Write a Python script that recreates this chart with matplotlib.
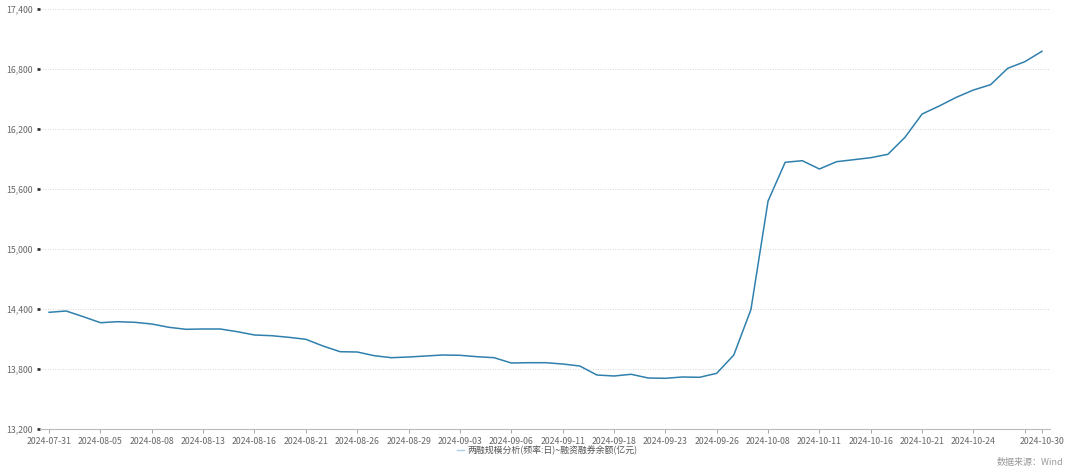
import matplotlib
matplotlib.use("Agg")
import matplotlib.pyplot as plt
from matplotlib.ticker import FuncFormatter
from matplotlib.lines import Line2D

plt.rcParams['font.family'] = ['Noto Sans CJK SC', 'DejaVu Sans']

dates = ["2024-07-31", "2024-08-01", "2024-08-02", "2024-08-05", "2024-08-06", "2024-08-07",
         "2024-08-08", "2024-08-09", "2024-08-12", "2024-08-13", "2024-08-14", "2024-08-15",
         "2024-08-16", "2024-08-19", "2024-08-20", "2024-08-21", "2024-08-22", "2024-08-23",
         "2024-08-26", "2024-08-27", "2024-08-28", "2024-08-29", "2024-08-30", "2024-09-02",
         "2024-09-03", "2024-09-04", "2024-09-05", "2024-09-06", "2024-09-09", "2024-09-10",
         "2024-09-11", "2024-09-12", "2024-09-13", "2024-09-18", "2024-09-19", "2024-09-20",
         "2024-09-23", "2024-09-24", "2024-09-25", "2024-09-26", "2024-09-27", "2024-09-30",
         "2024-10-08", "2024-10-09", "2024-10-10", "2024-10-11", "2024-10-14", "2024-10-15",
         "2024-10-16", "2024-10-17", "2024-10-18", "2024-10-21", "2024-10-22", "2024-10-23",
         "2024-10-24", "2024-10-25", "2024-10-28", "2024-10-29", "2024-10-30"]

balance = [14367, 14380, 14323, 14263, 14273, 14267, 14250, 14217, 14197, 14200,
           14200, 14173, 14140, 14133, 14117, 14097, 14030, 13973, 13970, 13933,
           13913, 13920, 13930, 13940, 13937, 13923, 13913, 13860, 13863, 13863,
           13850, 13830, 13740, 13730, 13747, 13710, 13707, 13720, 13717, 13757,
           13940, 14395, 15480, 15867, 15883, 15800, 15873, 15893, 15913, 15947,
           16117, 16350, 16430, 16517, 16590, 16643, 16807, 16873, 16977]

series_name = "两融规模分析(频率:日)~融资融券余额(亿元)"
source_text = "数据来源：Wind"
y_ticks = [13200, 13800, 14400, 15000, 15600, 16200, 16800, 17400]

fig = plt.figure(figsize=(10.8, 4.74), dpi=100)
ax = fig.add_axes([40/1080, 1 - 429/474, 1010/1080, 420/474])

x = list(range(len(dates)))
ax.plot(x, balance, color='#2f80ad', lw=1.1, solid_joinstyle='round')

ax.set_xlim(-0.53, len(dates) - 0.53)
ax.set_ylim(13200, 17400)

# x ticks every 3 trading days, plus last day
tick_idx = list(range(0, len(dates), 3))
labels = [dates[i] for i in tick_idx]
tick_idx_all = tick_idx + [len(dates) - 1]
labels_all = labels + [dates[-1]]
labels_all[-2] = ""  # 2024-10-29 tick without label
ax.set_xticks(tick_idx_all)
ax.set_xticklabels(labels_all, fontsize=6.3, color='#666666')
ax.tick_params(axis='x', length=3, width=0.6, color='#999999', pad=3)

ax.set_yticks(y_ticks)
ax.yaxis.set_major_formatter(FuncFormatter(lambda v, p: f"{int(v):,}"))
ax.tick_params(axis='y', length=2, width=2, color='#333333', pad=3, labelsize=6.3,
               labelcolor='#666666')

ax.grid(axis='y', color='#c8c8c8', linestyle=(0, (1, 2)), lw=0.6)
ax.set_axisbelow(True)
for s in ['top', 'right', 'left']:
    ax.spines[s].set_visible(False)
ax.spines['bottom'].set_color('#bbbbbb')
ax.spines['bottom'].set_linewidth(0.8)

# legend at bottom
ly = 1 - 450/474
fig.add_artist(Line2D([457/1080, 464/1080], [ly, ly], color='#a9cfe6', lw=1.0,
                      transform=fig.transFigure))
fig.text(467/1080, ly, series_name, ha='left', va='center',
         fontsize=6.4, color='#555555')
fig.text(1063/1080, 1 - 462/474, source_text, ha='right', va='center',
         fontsize=6.5, color='#999999')

fig.savefig("out.png", dpi=100)
